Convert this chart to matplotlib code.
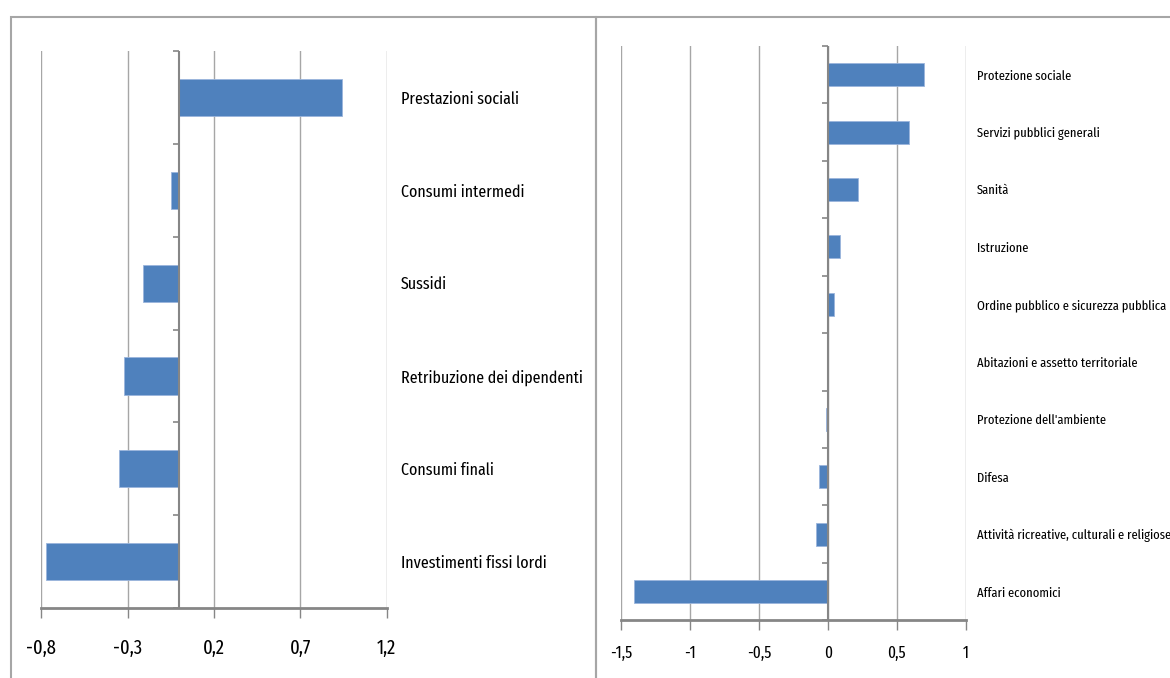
import numpy as np
import matplotlib
matplotlib.use("Agg")
import matplotlib.pyplot as plt
from matplotlib.patches import Rectangle
from matplotlib.ticker import FuncFormatter

plt.rcParams['font.family'] = ['Fira Sans Extra Condensed', 'DejaVu Sans']

# contributi per componente di spesa
voci_spesa = ["Prestazioni sociali", "Consumi intermedi", "Sussidi",
              "Retribuzione dei dipendenti", "Consumi finali",
              "Investimenti fissi lordi"]
val_spesa = [0.94, -0.05, -0.21, -0.32, -0.35, -0.77]
ticks_spesa = [-0.8, -0.3, 0.2, 0.7, 1.2]

# contributi per funzione
voci_funz = ["Protezione sociale", "Servizi pubblici generali", "Sanità",
             "Istruzione", "Ordine pubblico e sicurezza pubblica",
             "Abitazioni e assetto territoriale", "Protezione dell'ambiente",
             "Difesa", "Attività ricreative, culturali e religiose",
             "Affari economici"]
val_funz = [0.70, 0.59, 0.22, 0.085, 0.045, 0.0, -0.01, -0.065, -0.085, -1.405]
ticks_funz = [-1.5, -1, -0.5, 0, 0.5, 1]

BLU = '#4f81bd'
GRIGIO = '#a6a6a6'
ASSE = '#868686'

virgola = FuncFormatter(lambda v, p: f"{v:g}".replace('.', ','))


def pannello(ax, voci, valori, ticks, fs_lab, fs_tick, pad_lab, pad_tick):
    n = len(voci)
    y = np.arange(n)
    ax.barh(y, valori, height=0.4, color=BLU, edgecolor='#9bb5dc', linewidth=0.6, zorder=3)
    ax.set_xlim(ticks[0], ticks[-1])
    ax.set_ylim(n - 0.5, -0.5)
    ax.set_xticks(ticks)
    ax.xaxis.set_major_formatter(virgola)
    ax.grid(axis='x', color=GRIGIO, linewidth=1, zorder=0)
    for s in ['top', 'right', 'left']:
        ax.spines[s].set_visible(False)
    ax.spines['bottom'].set_color(ASSE)
    ax.spines['bottom'].set_linewidth(2)
    ax.tick_params(axis='x', direction='out', length=7, width=1, color=ASSE,
                   labelsize=fs_tick, pad=pad_tick)
    # etichette delle voci a destra del grafico
    ax.set_yticks(y)
    ax.set_yticklabels(voci)
    ax.yaxis.set_ticks_position('right')
    ax.tick_params(axis='y', length=0, labelsize=fs_lab, pad=pad_lab)
    # asse delle categorie sullo zero con tacche a sinistra
    ax.axvline(0, color=ASSE, linewidth=1.5, zorder=4)
    confini = np.arange(n + 1) - 0.5
    ax.plot(np.zeros(n + 1), confini, ls='none', marker=0, ms=4, mew=1.2,
            color=ASSE, clip_on=False, zorder=4)


fig = plt.figure(figsize=(11.7, 6.78), dpi=100)

# cornici dei due riquadri
fig.patches.append(Rectangle((0.0094, -0.05), 0.5091 - 0.0094, 0.9754 + 0.05,
                             transform=fig.transFigure, fill=False,
                             edgecolor=GRIGIO, linewidth=1.5))
fig.patches.append(Rectangle((0.5091, -0.05), 0.6, 0.9754 + 0.05,
                             transform=fig.transFigure, fill=False,
                             edgecolor=GRIGIO, linewidth=1.5))

ax1 = fig.add_axes([0.0353, 0.1032, 0.2952, 0.8215])
pannello(ax1, voci_spesa, val_spesa, ticks_spesa, 12.5, 14.5, 10, 15)

ax2 = fig.add_axes([0.5308, 0.0851, 0.2946, 0.8471])
pannello(ax2, voci_funz, val_funz, ticks_funz, 9.8, 12, 8, 11)

fig.savefig("out.png", dpi=100)
